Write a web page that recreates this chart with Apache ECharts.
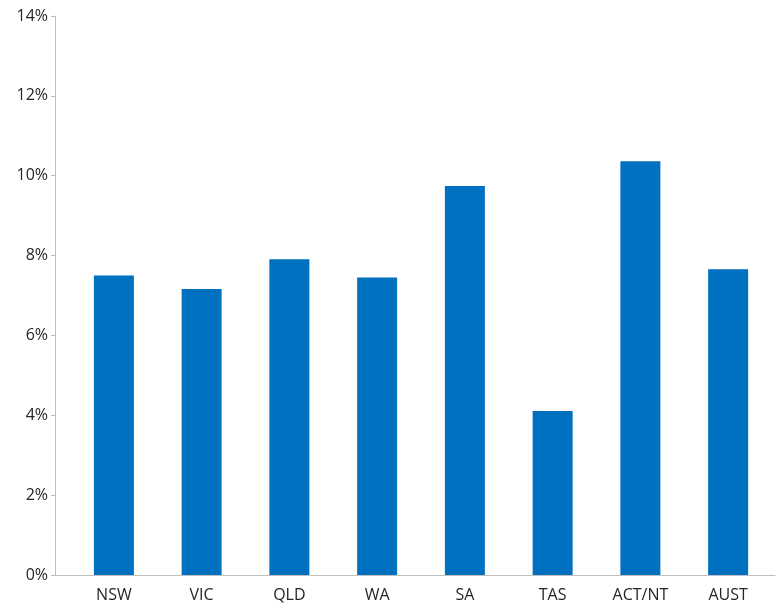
<!DOCTYPE html>
<html>
<head>
<meta charset="utf-8">
<script src="https://cdn.jsdelivr.net/npm/echarts@6/dist/echarts.min.js"></script>
<style>
  html, body { margin: 0; padding: 0; background: #fff; }
  #chart { width: 776px; height: 608px; }
</style>
</head>
<body>
<div id="chart"></div>
<script>
const regions = ['NSW', 'VIC', 'QLD', 'WA', 'SA', 'TAS', 'ACT/NT', 'AUST']
const shares = [7.5, 7.16, 7.91, 7.45, 9.74, 4.11, 10.36, 7.66]

const chart = echarts.init(document.getElementById('chart'))
chart.setOption({
  animation: false,
  textStyle: { fontFamily: 'Open Sans' },
  grid: [
    { left: 70, right: 4, top: 16, bottom: 33 },
    // wider grid only to draw the baseline from the value axis to the edge
    { left: 55, right: 1, top: 16, bottom: 33 }
  ],
  xAxis: [{
    type: 'category',
    gridIndex: 0,
    data: regions,
    axisLine: { show: false },
    axisTick: { show: false },
    axisLabel: { color: '#262626', fontSize: 16, margin: 12 }
  }, {
    type: 'value',
    gridIndex: 1,
    axisLine: { show: true, lineStyle: { color: '#bfbfbf' } },
    axisTick: { show: false },
    axisLabel: { show: false },
    splitLine: { show: false }
  }],
  yAxis: [{
    type: 'value',
    gridIndex: 0,
    min: 0,
    max: 14,
    interval: 2,
    offset: 15,
    axisLine: { show: true, lineStyle: { color: '#bfbfbf' } },
    axisTick: { show: true, length: 4, lineStyle: { color: '#bfbfbf' } },
    splitLine: { show: false },
    axisLabel: { color: '#262626', fontSize: 16, margin: 7, formatter: '{value}%' }
  }, {
    type: 'value',
    gridIndex: 1,
    show: false
  }],
  series: [{
    type: 'bar',
    data: shares,
    barWidth: 40,
    itemStyle: { color: '#0070c0' }
  }]
})
</script>
</body>
</html>
